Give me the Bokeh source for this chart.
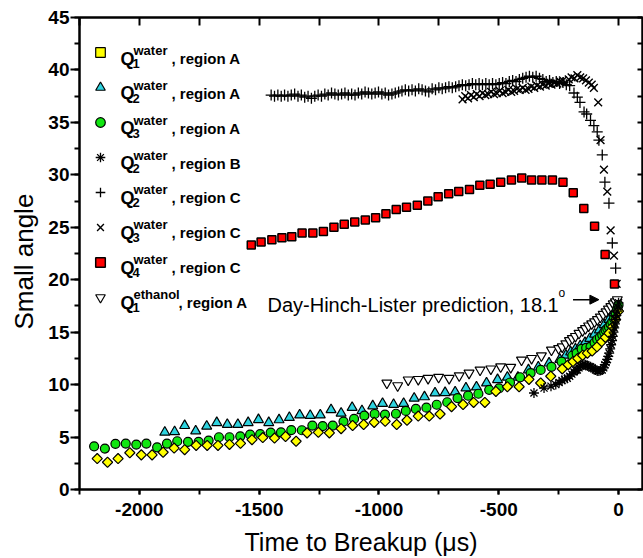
import math
from bokeh.plotting import figure
from bokeh.models import (Range1d, LinearAxis, SingleIntervalTicker, Legend, LegendItem,
                          Label, Arrow, NormalHead, CustomJSTickFormatter, Title)
from bokeh.embed import file_html
from bokeh.resources import INLINE
from bokeh.core.properties import value

# ---------------- data ----------------
q1w_a_x = [-2176,-2133,-2089,-2040,-1992,-1947,-1901,-1855,-1811,-1763,-1717,-1672,-1624,-1578,-1530,
           -1485,-1436,-1390,-1346,-1300,-1253,-1207,-1158,-1110,-1064,-1020,-974,-926,-883,-836,
           -790,-745,-697,-649,-605,-558,-512,-464,-415,-374,-325,-283,-235,-210,-190,-170,-150,
           -130,-110,-90,-70,-55,-40,-25,-12,0]
q1w_a_y = [2.95,2.6,2.95,3.5,3.3,3.3,3.55,3.95,3.8,4.2,4.2,4.2,4.3,4.4,4.75,
           4.95,4.9,5.05,4.6,5.4,5.45,5.4,5.8,6.1,6.2,6.4,6.5,6.2,6.6,7.0,
           7.0,7.2,7.9,8.1,8.3,8.3,9.35,9.8,9.8,10.5,10.15,10.8,11.5,11.9,12.2,12.5,12.8,
           13.0,13.2,13.6,14.1,14.5,14.9,15.5,16.2,17.0]

q2w_a_x = [-1894,-1853,-1811,-1765,-1719,-1677,-1633,-1589,-1546,-1503,-1460,-1417,-1374,-1331,-1287,
           -1245,-1200,-1158,-1112,-1071,-1026,-985,-939,-897,-853,-810,-766,-724,-682,-637,
           -593,-551,-505,-464,-420,-376,-335,-290,-245,-220,-200,-180,-160,-140,-120,
           -100,-80,-60,-40,-20,-5]
q2w_a_y = [5.45,5.5,6.09,5.58,6.03,6.37,6.2,6.2,6.37,6.66,6.37,6.64,6.86,7.1,7.05,
           7.1,7.6,7.27,7.82,7.5,7.97,8.2,8.1,8.2,8.7,8.83,9.2,9.23,9.3,9.67,
           9.77,10.15,10.47,10.7,10.7,11.4,11.67,12.05,12.4,12.8,13.1,13.4,13.7,14.0,14.4,
           14.8,15.2,15.7,16.2,16.8,17.4]

q3w_a_x = [-2189,-2144,-2100,-2057,-2013,-1971,-1926,-1885,-1842,-1797,-1753,-1711,-1668,-1624,-1579,
           -1538,-1496,-1452,-1409,-1366,-1322,-1278,-1235,-1193,-1148,-1104,-1061,-1018,-975,-929,
           -888,-846,-802,-759,-715,-672,-628,-585,-540,-499,-453,-411,-367,-325,-280,
           -238,-193,-175,-154,-135,-117,-100,-89,-78,-68,-60,-54,-47,-40,-33,-26,-19,-12,-5,0]
q3w_a_y = [4.12,3.9,4.35,4.38,4.28,4.38,4.02,4.38,4.6,4.54,4.54,4.66,4.98,4.98,5.07,
           5.23,5.27,5.43,5.45,5.67,5.65,6.09,6.05,6.09,6.48,6.73,7.04,7.2,7.14,7.22,
           7.49,7.68,7.8,8.08,8.32,8.72,8.94,9.13,9.5,9.64,10.2,10.7,11.1,11.4,11.7,
           12.2,12.75,13.0,13.4,13.5,13.6,14.0,14.3,14.5,14.75,15.0,15.2,15.35,15.5,15.75,16.0,16.3,16.65,17.3,17.6]

q2w_b_x = [-353,-311,-282,-262,-248,-236,-225,-214,-204,-195,-186,-178,-172,-165,-158,
           -151,-144,-137,-130,-124,-117,-110,-103,-96,-89,-82,-75,-68,-62,-57,
           -52,-47,-43,-39,-35,-31,-27,-24,-21,-18,-15,-12,-9,-6,-3,0]
q2w_b_y = [9.2,9.67,9.85,10.0,10.2,10.4,10.5,10.6,10.8,11.0,11.2,11.35,11.4,11.6,11.75,
           11.9,11.95,11.9,11.8,11.7,11.7,11.6,11.5,11.4,11.3,11.3,11.35,11.4,11.6,11.9,
           12.1,12.4,12.7,13.0,13.4,13.8,14.2,14.6,15.0,15.4,15.8,16.2,16.6,17.0,17.4,17.8]

q2w_c_x = [-1450,-1436,-1422,-1408,-1394,-1380,-1366,-1352,-1338,-1324,
           -1310,-1296,-1282,-1268,-1254,-1240,-1226,-1212,-1198,-1184,
           -1170,-1156,-1142,-1128,-1114,-1100,-1086,-1072,-1058,-1044,
           -1030,-1016,-1002,-988,-974,-960,-946,-932,-918,-904,
           -890,-876,-862,-848,-834,-820,-806,-792,-778,-764,
           -750,-736,-722,-708,-694,-680,-666,-652,-638,-624,
           -610,-596,-582,-568,-554,-540,-526,-512,-498,-484,
           -470,-456,-442,-428,-414,-400,-386,-372,-358,-344,
           -330,-316,-302,-288,-274,-260,-246,-232,-218,-204,
           -186,-172,-161,-144,-133,-117,-103,-89,-82,-68,-57,-40,-26,-12]
q2w_c_y = [37.6,37.5,37.6,37.5,37.6,37.5,37.6,37.7,37.5,37.6,
           37.4,37.5,37.3,37.5,37.6,37.5,37.7,37.6,37.8,37.7,
           37.6,37.7,37.8,37.6,37.7,37.6,37.8,37.7,37.9,37.8,
           37.7,37.8,37.9,37.7,37.8,37.6,37.7,37.8,37.9,38.0,
           38.1,38.0,38.1,38.0,38.2,38.1,38.0,37.9,38.2,38.1,
           38.3,38.2,38.3,38.4,38.3,38.4,38.5,38.6,38.5,38.6,
           38.7,38.6,38.7,38.6,38.7,38.6,38.7,38.6,38.7,38.8,
           38.7,38.9,39.0,38.9,39.1,39.2,39.3,39.4,39.3,39.4,
           39.2,39.1,38.9,39.0,38.8,38.9,38.7,38.8,38.6,38.5,
           37.8,37.4,36.9,36.0,35.8,35.2,34.7,34.1,33.3,31.9,29.3,27.3,23.5,21.1]

q3w_c_x = [-651,-640,-628,-616,-604,-592,-580,-568,-556,-544,
           -532,-520,-508,-496,-484,-472,-460,-448,-436,-424,
           -412,-400,-388,-376,-364,-352,-340,-328,-316,-304,
           -292,-280,-268,-256,-244,-232,-220,-208,-196,-184,
           -172,-160,-148,-136,-124,-112,
           -103,-85,-75,-61,-47,-33,-19,-8]
q3w_c_y = [37.2,37.5,37.3,37.6,37.4,37.7,37.5,37.8,37.6,37.7,
           37.9,37.7,37.8,38.0,37.8,37.9,38.1,37.9,38.0,38.2,
           38.1,38.3,38.1,38.2,38.4,38.3,38.5,38.4,38.6,38.5,
           38.7,38.6,38.8,38.7,38.9,39.0,38.8,39.1,39.3,39.2,
           39.5,39.3,39.2,39.0,38.8,38.6,
           38.3,36.9,33.3,30.5,28.4,24.7,22.3,19.6]

q4w_c_x = [-1533,-1492,-1447,-1405,-1364,-1321,-1276,-1232,-1188,-1145,-1101,-1057,-1014,-971,-928,
           -885,-840,-796,-753,-709,-667,-622,-579,-536,-492,-447,-404,-363,-320,-276,
           -232,-189,-145,-100,-56,-17]
q4w_c_y = [23.3,23.6,23.8,24.0,24.1,24.45,24.45,24.6,25.0,25.3,25.5,25.7,25.9,26.3,26.7,
           26.9,27.1,27.5,27.9,28.2,28.4,28.6,29.0,29.1,29.3,29.5,29.7,29.5,29.5,29.5,
           29.3,28.3,26.8,25.1,22.4,19.6]

q1e_a_x = [-967,-922,-878,-836,-795,-751,-707,-665,-624,-578,-533,-492,-450,-405,-363,-322,-280,
           -250,-235,-220,-205,-193,-180,-165,-150,-138,-125,-112,-100,-88,-76,-64,-52,-42,-32,-22,-13,-5]
q1e_a_y = [10.15,9.9,10.45,10.5,10.6,10.7,10.6,10.85,11.1,11.4,11.5,11.7,11.65,12.35,12.5,12.75,13.3,
           13.45,13.6,13.9,14.2,14.4,14.6,14.9,15.15,15.35,15.6,15.8,16.0,16.2,16.45,16.7,16.95,17.2,17.45,17.7,17.9,18.1]

dhl_prediction = 18.1
legend_rows = [("1", "water", "A"), ("2", "water", "A"), ("3", "water", "A"), ("2", "water", "B"),
               ("2", "water", "C"), ("3", "water", "C"), ("4", "water", "C"), ("1", "ethanol", "A")]
x_label = "Time to Breakup (\u03bcs)"
y_label = "Small angle"

# ---------------- figure ----------------
FONT = "Liberation Sans"
p = figure(width=643, height=558, output_backend="svg", toolbar_location=None,
           x_range=Range1d(-2250, 100), y_range=Range1d(0, 45),
           min_border_left=79, min_border_right=1, min_border_top=17, min_border_bottom=68)
p.xgrid.visible = False
p.ygrid.visible = False
p.outline_line_color = "black"
p.outline_line_width = 2
p.background_fill_color = "white"
p.border_fill_color = "white"

plain = CustomJSTickFormatter(code="return tick.toString()")
xa = p.xaxis[0]
xa.ticker = SingleIntervalTicker(interval=500, num_minor_ticks=2)
xa.formatter = plain
ya = p.yaxis[0]
ya.ticker = SingleIntervalTicker(interval=5, num_minor_ticks=2)
ya.formatter = plain
for ax in (xa, ya):
    ax.axis_line_width = 2
    ax.axis_line_color = "black"
    ax.major_tick_line_width = 2
    ax.minor_tick_line_width = 2
    ax.major_tick_line_color = "black"
    ax.minor_tick_line_color = "black"
    ax.major_tick_in = 0
    ax.minor_tick_in = 0
    ax.major_label_text_font = FONT
    ax.major_label_text_font_style = "bold"
    ax.major_label_text_font_size = "19px"
    ax.major_label_text_color = "black"
    ax.axis_label_text_font = FONT
    ax.axis_label_text_font_style = "normal"
    ax.axis_label_text_color = "black"
xa.major_tick_out = 5
xa.minor_tick_out = 5
xa.major_label_standoff = 8
xa.axis_label = x_label
xa.axis_label_text_font_size = "25px"
xa.axis_label_standoff = 9
ya.major_tick_out = 9
ya.minor_tick_out = 5
ya.major_label_standoff = 1

# y-axis title as a side title, so that the frame keeps its left edge
p.add_layout(Title(text=y_label, align="left", offset=160, text_font=FONT, text_font_size="26px",
                   text_font_style="normal", text_color="black", standoff=13), "left")

blank = CustomJSTickFormatter(code="return ''")
top = LinearAxis(ticker=SingleIntervalTicker(interval=250, num_minor_ticks=0), formatter=blank,
                 major_tick_in=8, major_tick_out=0, minor_tick_in=0, minor_tick_out=0,
                 major_label_standoff=0, axis_line_width=2, major_tick_line_width=2)
right = LinearAxis(ticker=SingleIntervalTicker(interval=2.5, num_minor_ticks=0), formatter=blank,
                   major_tick_in=5, major_tick_out=0, minor_tick_in=0, minor_tick_out=0,
                   major_label_standoff=0, axis_line_width=2, major_tick_line_width=2)
p.add_layout(top, "above")
p.add_layout(right, "right")

# ---------------- series ----------------
r_eth = p.scatter(q1e_a_x, q1e_a_y, marker="inverted_triangle", size=10, fill_color="white",
                  line_color="black", line_width=1.2)
r_cyan = p.scatter(q2w_a_x, q2w_a_y, marker="triangle", size=10, fill_color="#2ED3DF",
                   line_color="black", line_width=1.2)
r_green = p.scatter(q3w_a_x, q3w_a_y, marker="circle", size=9, fill_color="#11E611",
                    line_color="black", line_width=1.2)
r_yel = p.scatter(q1w_a_x, q1w_a_y, marker="square", angle=math.pi / 4, size=7.2,
                  fill_color="#FFFF00", line_color="black", line_width=1.2)
r_ast = p.scatter(q2w_b_x, q2w_b_y, marker="asterisk", size=10, line_color="black", line_width=1.3)
r_plus = p.scatter(q2w_c_x, q2w_c_y, marker="cross", size=11, line_color="black", line_width=1.3)
r_x = p.scatter(q3w_c_x, q3w_c_y, marker="x", size=11, line_color="black", line_width=1.4)
r_red = p.scatter(q4w_c_x, q4w_c_y, marker="square", size=8, fill_color="#FF0000",
                  line_color="black", line_width=1.5)

order = [r_yel, r_cyan, r_green, r_ast, r_plus, r_x, r_red, r_eth]
items = [LegendItem(label=value(""), renderers=[r]) for r in order]
leg = Legend(items=items, location=(9, 180), glyph_width=24, glyph_height=24, label_width=0,
             label_height=24, spacing=11, padding=0, margin=0, label_standoff=0,
             label_text_font_size="1px", border_line_color=None, background_fill_alpha=0)
p.add_layout(leg)

# ---------------- texts (screen units relative to the frame) ----------------
FL, FB = 79, 490
def sx(px):
    return px - FL
def sy(py):
    return FB - py

def add_text(px, py, txt, size, style="bold"):
    p.add_layout(Label(x=sx(px), y=sy(py), x_units="screen", y_units="screen", text=txt,
                       text_font=FONT, text_font_style=style, text_font_size=size,
                       text_baseline="alphabetic", text_color="black"))

for i, (sub, sup, reg) in enumerate(legend_rows):
    cy = 53 + 34.86 * i
    add_text(120, cy + 6, "Q", "18px")
    add_text(132, cy + 11, sub, "13px")
    add_text(133, cy - 2, sup, "13px")
    add_text(178 if sup == "ethanol" else 171, cy + 6, ", region " + reg, "15px")

add_text(267, 305, "Day-Hinch-Lister prediction, " + str(dhl_prediction), "20px", "normal")
add_text(558, 293, "o", "12px", "normal")
p.add_layout(Arrow(x_start=-190, y_start=dhl_prediction, x_end=-82, y_end=dhl_prediction,
                   line_color="black", line_width=1.5,
                   end=NormalHead(size=9, fill_color="black", line_color="black")))

open("out.html", "w").write(file_html(p, INLINE))
